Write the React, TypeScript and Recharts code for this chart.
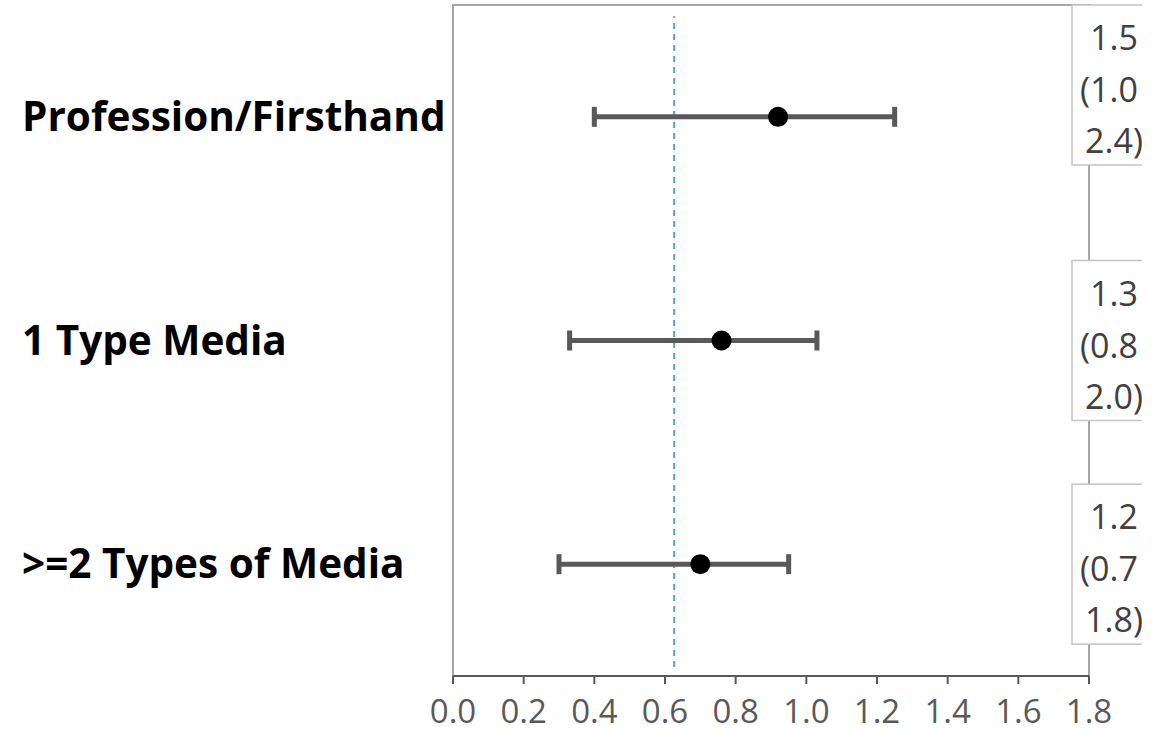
import React from 'react';
import {
  ScatterChart,
  Scatter,
  XAxis,
  YAxis,
  ErrorBar,
  ReferenceArea,
  ReferenceLine,
} from 'recharts';

// Forest plot: point estimate with confidence interval per exposure group,
// a dashed reference line and a value box at the right edge of each row.

const categories = ['Profession/Firsthand', '1 Type Media', '>=2 Types of Media'];
const rowPos = [2.5, 1.5, 0.5];
const estimate = [0.92, 0.76, 0.7];
const lower = [0.4, 0.33, 0.3];
const upper = [1.25, 1.03, 0.95];
const boxLine1 = ['1.5', '1.3', '1.2'];
const boxLine2 = ['(1.0', '(0.8', '(0.7'];
const boxLine3 = ['2.4)', '2.0)', '1.8)'];
const refValue = 0.626;
const xTicks = [0, 0.2, 0.4, 0.6, 0.8, 1.0, 1.2, 1.4, 1.6, 1.8];

const W = 1160;
const H = 733;
const PLOT_TOP = 5;
const FONT = '"Open Sans", Lato, sans-serif';

const rows = categories.map((name, i) => ({
  name,
  y: rowPos[i],
  x: estimate[i],
  err: [estimate[i] - lower[i], upper[i] - estimate[i]],
  l1: boxLine1[i],
  l2: boxLine2[i],
  l3: boxLine3[i],
}));

function CategoryTick(props: any) {
  const { y, payload } = props;
  const idx = rowPos.indexOf(payload.value);
  if (idx < 0) return null;
  return (
    <text x={22} y={y + 14} fontFamily={FONT} fontWeight="bold" fontSize={40.5} fill="#000">
      {categories[idx]}
    </text>
  );
}

// dot plus the value label box; a box that would sit near the top snaps to the frame
function PointWithBox(props: any) {
  const { cx, cy, payload } = props;
  const boxH = 160;
  let boxTop = cy - boxH / 2;
  if (boxTop < PLOT_TOP + 40) boxTop = PLOT_TOP;
  const boxX = 1072;
  return (
    <g>
      <circle cx={cx} cy={cy} r={10} fill="#000" />
      <rect x={boxX} y={boxTop} width={84} height={boxH} fill="#fff" stroke="#c4c4c4" strokeWidth={1.5} />
      <g fontFamily={FONT} fontSize={34} fill="#404040">
        <text x={1114} y={boxTop + 45} textAnchor="middle">{payload.l1}</text>
        <text x={1080} y={boxTop + 97}>{payload.l2}</text>
        <text x={1114} y={boxTop + 148} textAnchor="middle">{payload.l3}</text>
      </g>
    </g>
  );
}

export default function App() {
  return (
    <div style={{ position: 'absolute', left: 0, top: 0, width: 1142, height: H, overflow: 'hidden', background: '#fff' }}>
      <ScatterChart width={W} height={H} margin={{ top: PLOT_TOP, right: 71, bottom: 0, left: 22 }}>
        <XAxis
          type="number"
          dataKey="x"
          domain={[0, 1.8]}
          ticks={xTicks}
          tickFormatter={(v: number) => v.toFixed(1)}
          height={57}
          tickSize={8}
          tickMargin={16}
          axisLine={{ stroke: '#595959', strokeWidth: 2 }}
          tickLine={{ stroke: '#595959', strokeWidth: 2 }}
          tick={{ fill: '#595959', fontSize: 33, fontFamily: FONT }}
        />
        <YAxis
          type="number"
          dataKey="y"
          domain={[0, 3]}
          ticks={rowPos}
          width={431}
          axisLine={false}
          tickLine={false}
          tick={<CategoryTick />}
        />
        <ReferenceArea x1={0} x2={1.8} y1={0} y2={3} fill="none" stroke="#a6a6a6" strokeWidth={2} />
        <ReferenceLine
          segment={[{ x: refValue, y: 0.04 }, { x: refValue, y: 2.95 }]}
          stroke="#5b9bd5"
          strokeWidth={2}
          strokeDasharray="6 5"
        />
        <Scatter data={rows} isAnimationActive={false} shape={<PointWithBox />}>
          <ErrorBar dataKey="err" direction="x" width={10} stroke="#595959" strokeWidth={5} isAnimationActive={false} />
        </Scatter>
      </ScatterChart>
    </div>
  );
}
